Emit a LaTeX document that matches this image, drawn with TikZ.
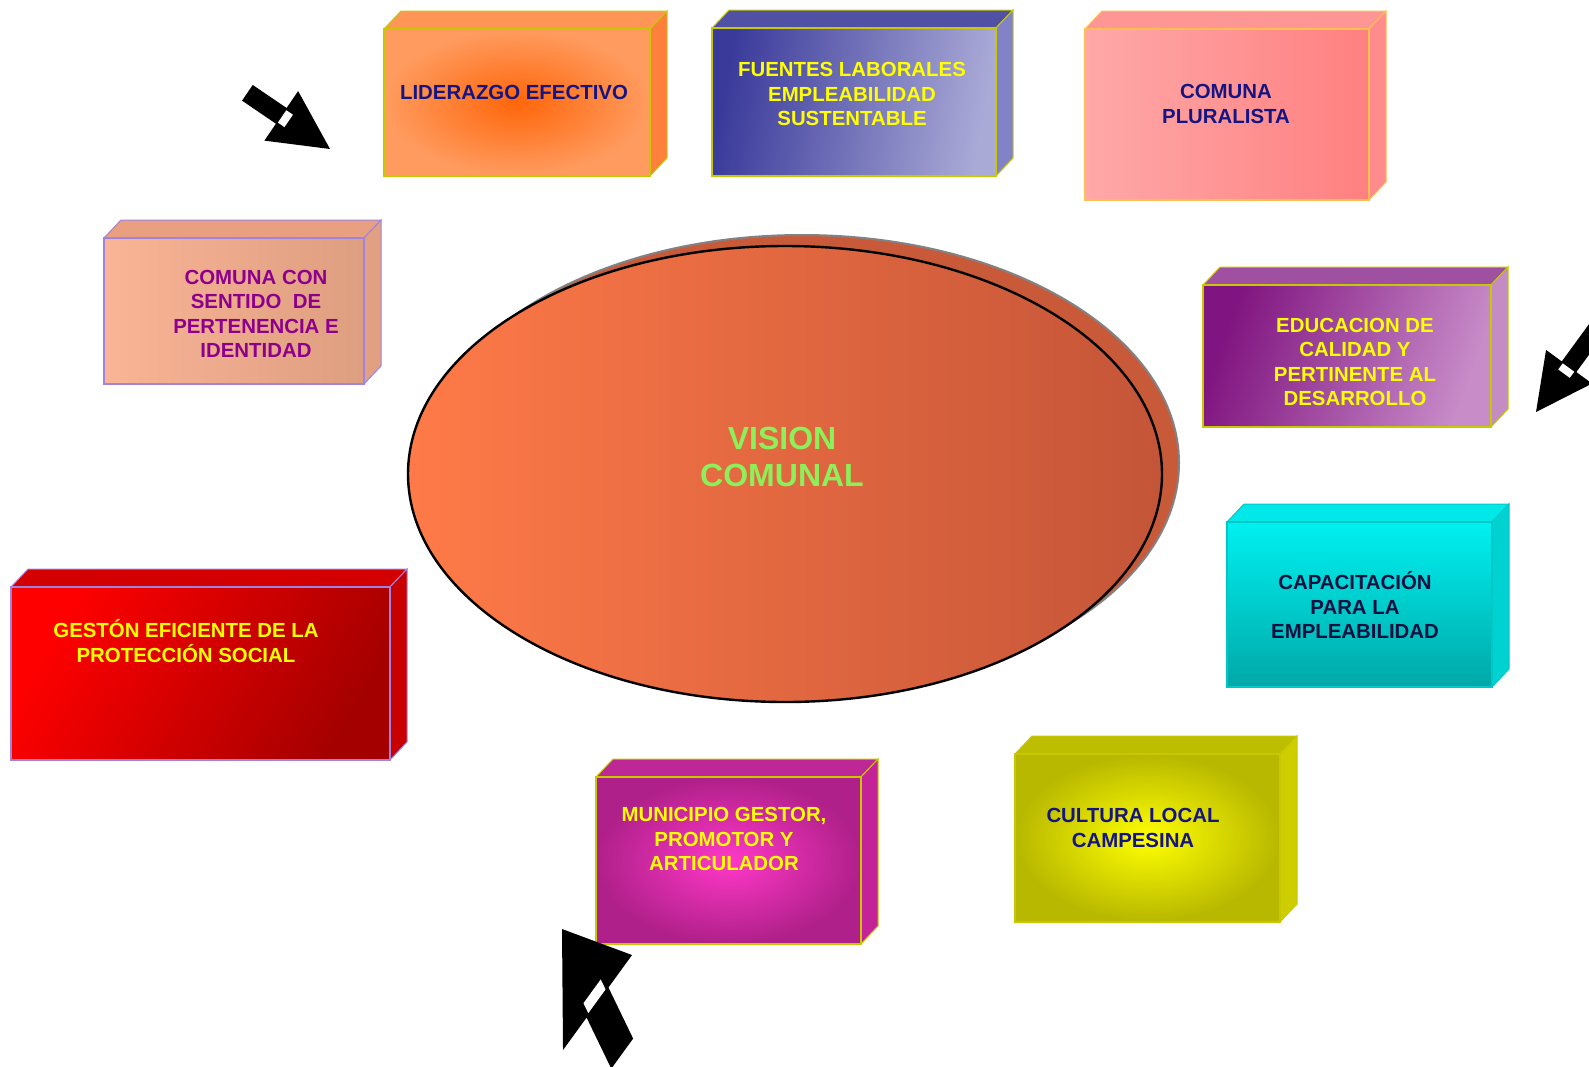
\documentclass[tikz,border=0pt]{standalone}
\usepackage{fontspec}
\setmainfont{Liberation Sans}
\usetikzlibrary{shapes.geometric}

\definecolor{navy}{RGB}{20,20,130}
\definecolor{amarillo}{RGB}{255,255,0}
\definecolor{morado}{RGB}{140,0,140}
\definecolor{verde}{RGB}{140,240,90}
\definecolor{borde}{RGB}{200,200,0}
\definecolor{lila}{RGB}{160,130,225}
\definecolor{naranjaborde}{RGB}{255,190,80}
\definecolor{cianborde}{RGB}{0,200,200}
% faces
\definecolor{liderTop}{RGB}{255,150,85}
\definecolor{liderSide}{RGB}{255,128,60}
\definecolor{fuentesTop}{RGB}{80,80,165}
\definecolor{fuentesSide}{RGB}{130,130,200}
\definecolor{pluralTop}{RGB}{255,150,150}
\definecolor{pluralSide}{RGB}{255,140,140}
\definecolor{sentidoTop}{RGB}{232,160,128}
\definecolor{sentidoSide}{RGB}{225,160,130}
\definecolor{educTop}{RGB}{160,80,160}
\definecolor{educSide}{RGB}{195,140,195}
\definecolor{capacTop}{RGB}{0,232,232}
\definecolor{capacSide}{RGB}{0,210,210}
\definecolor{gestionTop}{RGB}{210,0,0}
\definecolor{gestionSide}{RGB}{200,0,0}
\definecolor{muniTop}{RGB}{190,40,150}
\definecolor{muniSide}{RGB}{195,35,150}
\definecolor{culturaTop}{RGB}{190,190,0}
\definecolor{culturaSide}{RGB}{205,205,0}

\begin{document}
\begin{tikzpicture}[x=0.5pt,y=-0.5pt,
        box node/.style={rectangle,line width=1pt,inner sep=0pt},
        box text/.style={align=center,font=\fontsize{10.2}{12.2}\selectfont\bfseries},
        black arrow/.style={fill=black}]
    \useasboundingbox (0,0) rectangle (1589,1066);
    \clip (0,0) rectangle (1589,1066);

    % central ellipse with its shadow
    \node[ellipse,draw={rgb,255:red,130;green,130;blue,130},line width=1pt,
          fill={rgb,255:red,200;green,90;blue,58},
          minimum width=377pt,minimum height=228pt] (sombra) at (802,463) {};
    \node[ellipse,draw=black,line width=1.2pt,
          left color={rgb,255:red,255;green,122;blue,72},
          right color={rgb,255:red,196;green,85;blue,56},
          minimum width=377pt,minimum height=228pt] (vision) at (785,474) {};
    \node[align=center,text=verde,font=\fontsize{16}{18.7}\selectfont\bfseries]
        (vision text) at (782,457) {VISION\\COMUNAL};

    % boxes (front faces)
    \node[box node,inner color={rgb,255:red,255;green,102;blue,10},
          outer color={rgb,255:red,255;green,155;blue,95},
          minimum width=132pt,minimum height=72.5pt] (lider) at (517,102.5) {};
    \node[box node,left color={rgb,255:red,58;green,58;blue,155},
          right color={rgb,255:red,170;green,170;blue,215},shading angle=80,
          minimum width=141pt,minimum height=73pt] (fuentes) at (854,102) {};
    \node[box node,left color={rgb,255:red,255;green,168;blue,168},
          right color={rgb,255:red,255;green,128;blue,128},
          minimum width=141pt,minimum height=84.5pt] (plural) at (1227,114.5) {};
    \node[box node,left color={rgb,255:red,250;green,180;blue,150},
          right color={rgb,255:red,222;green,158;blue,128},
          minimum width=129pt,minimum height=72pt] (sentido) at (234,311) {};
    \node[box node,left color={rgb,255:red,128;green,20;blue,128},
          right color={rgb,255:red,200;green,140;blue,200},shading angle=70,
          minimum width=143pt,minimum height=70pt] (educ) at (1347,356) {};
    \node[box node,top color={rgb,255:red,0;green,240;blue,240},
          bottom color={rgb,255:red,0;green,168;blue,168},
          minimum width=131.5pt,minimum height=81.5pt] (capac) at (1359.5,604.5) {};
    \node[box node,left color={rgb,255:red,255;green,0;blue,0},
          right color={rgb,255:red,165;green,0;blue,0},shading angle=60,
          minimum width=188.5pt,minimum height=85.5pt] (gestion) at (200.5,673.5) {};
    \node[box node,inner color={rgb,255:red,255;green,56;blue,200},
          outer color={rgb,255:red,176;green,32;blue,138},
          minimum width=131.5pt,minimum height=82.5pt] (muni) at (728.5,860.5) {};
    \node[box node,inner color={rgb,255:red,255;green,255;blue,0},
          outer color={rgb,255:red,184;green,184;blue,0},
          minimum width=131.5pt,minimum height=83pt] (cultura) at (1147.5,838) {};

    % top and side faces
    \foreach \b/\cb in {lider/borde, fuentes/borde, plural/naranjaborde, sentido/lila,
        educ/borde, capac/cianborde, gestion/lila, muni/borde, cultura/borde}
    {
        \filldraw[fill=\b Top,draw=\cb,line width=0.5pt] (\b.north west) -- ++(17,-18)
            -- ([shift={(17,-18)}]\b.north east) -- (\b.north east) -- cycle;
        \filldraw[fill=\b Side,draw=\cb,line width=0.5pt] (\b.north east) -- ++(17,-18)
            -- ([shift={(17,-18)}]\b.south east) -- (\b.south east) -- cycle;
        \draw[draw=\cb,line width=1pt] (\b.north west) rectangle (\b.south east);
    }

    % box texts
    \node[box text,text=navy] (t-lider) at (514,92) {LIDERAZGO EFECTIVO};
    \node[box text,text=amarillo] (t-fuentes) at (852,94) {FUENTES LABORALES\\EMPLEABILIDAD\\SUSTENTABLE};
    \node[box text,text=navy] (t-plural) at (1226,104) {COMUNA\\PLURALISTA};
    \node[box text,text=morado] (t-sentido) at (256,314) {COMUNA CON\\SENTIDO\ \ DE\\PERTENENCIA E\\IDENTIDAD};
    \node[box text,text=amarillo] (t-educ) at (1355,362) {EDUCACION DE\\CALIDAD Y\\PERTINENTE AL\\DESARROLLO};
    \node[box text,text={rgb,255:red,16;green,16;blue,64}] (t-capac) at (1355,605) {CAPACITACIÓN\\PARA LA\\EMPLEABILIDAD};
    \node[box text,text=amarillo] (t-gestion) at (186,641) {GESTÓN EFICIENTE DE LA\\PROTECCIÓN SOCIAL};
    \node[box text,text=amarillo] (t-muni) at (724,839) {MUNICIPIO GESTOR,\\PROMOTOR Y\\ARTICULADOR};
    \node[box text,text=navy] (t-cultura) at (1133,828) {CULTURA LOCAL\\CAMPESINA};

    % block arrows (tip, axis vector, cross vector, shaft length)
    \foreach \tx/\ty/\ux/\uy/\vx/\vy/\len in {
        330/149/0.826/-0.562/-0.562/-0.826/100,
        1536/412/-0.56/-0.767/0.767/-0.56/120,
        562/929/-0.602/1.246/1.15/1.583/100}
    {
        \begin{scope}[shift={(\tx,\ty)},x={(\ux*0.5pt,\uy*0.5pt)},y={(\vx*0.5pt,\vy*0.5pt)}]
            \fill[black arrow] (0,0) -- (-59,30) -- (-59,9.5) -- (-\len,9.5)
                -- (-\len,-9.5) -- (-59,-9.5) -- (-59,-30) -- cycle;
            \fill[white] (-58,-7.5) -- (-50,-7.5) -- (-50,7.5) -- (-58,7.5) -- cycle;
        \end{scope}
    }
\end{tikzpicture}
\end{document}
